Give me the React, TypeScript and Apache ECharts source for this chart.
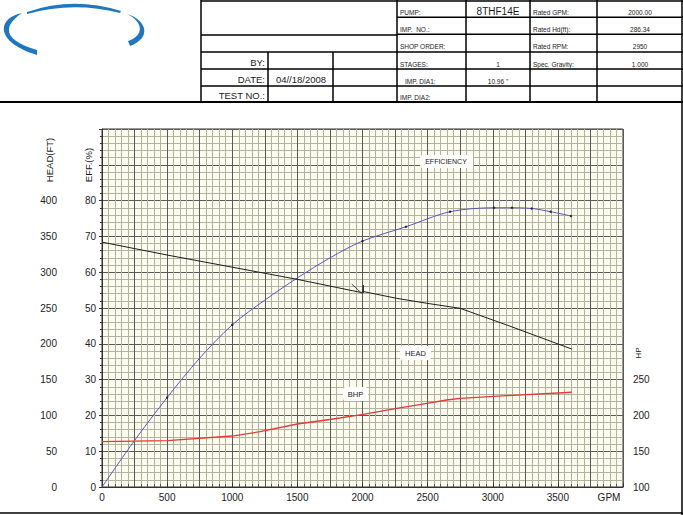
import React, { useEffect, useRef } from "react";
import * as echarts from "echarts";

const FONT = '"Liberation Sans", Arial, Helvetica, sans-serif';

// ---------- data ----------
const effGpm = [0, 250, 500, 750, 1000, 1250, 1500, 1750, 2000, 2334, 2672, 3010, 3148, 3299, 3445, 3601];
const effPct = [0, 13, 25, 36, 45.3, 52.2, 58.4, 64, 68.7, 72.7, 76.9, 78.0, 78.0, 77.8, 76.9, 75.7];
const effDot = [false, false, true, false, true, false, false, false, true, true, true, true, true, true, true, true];

const headGpm = [0, 500, 1000, 1500, 1994, 2006, 2263, 2493, 2749, 3107, 3606];
const headFt = [342, 324, 307, 290, 271.5, 273, 263.5, 256.6, 249.6, 226.3, 192.7];

const ratedTickGpm = [1917, 1994];
const ratedTickFt = [283.5, 270.5];
const ratedBarGpm = [2006, 2006];
const ratedBarFt = [282, 271];

const bhpGpm = [0, 500, 1000, 1213, 1500, 1762, 2006, 2263, 2493, 2646, 2749, 3107, 3606];
const bhpHp = [163.3, 164.7, 171.2, 177.2, 188, 194.6, 201.5, 209.9, 216.9, 221.5, 223.9, 227.5, 232.3];

// axis label limits
const gpmLabelMax = 3500;
const effLabelMax = 80;
const headLabelMax = 400;
const hpLabelMax = 250;

// header texts
const pumpLabels = ["PUMP:", "IMP.  NO.:", "SHOP ORDER:", "STAGES:", "IMP. DIA1:", "IMP. DIA2:"];
const pumpValues = ["8THF14E", "", "", "1", '10.96 "', ""];
const ratedLabels = ["Rated GPM:", "Rated Hd(ft):", "Rated RPM:", "Spec. Gravity:", "", ""];
const ratedValues = ["2000.00", "286.34", "2950", "1.000", "", ""];
const infoLabels = ["BY:", "DATE:", "TEST NO.:"];
const infoValues = ["", "04//18/2008", ""];

const zip = (a: number[], b: number[]) => a.map((v, i) => [v, b[i]]);

echarts.graphic.registerShape(
  "logoLeft",
  echarts.graphic.extendPath("M22 13 C-3 18 -6 42 37 55 L37 50 C2 40 3 26 22 13 Z", {})
);
echarts.graphic.registerShape(
  "logoRight",
  echarts.graphic.extendPath("M127 14 C147 20 152 38 130 46 L128 41 C144 36 144 22 127 14 Z", {})
);
echarts.graphic.registerShape(
  "logoTop",
  echarts.graphic.extendPath("M27 12 Q73 -4 121 11 L120 13 Q73 1 27 14 Z", {})
);

const D = "#5a5a5a";
const M = "#b2b2a2";
const gridCycle = [D, M, M, M, M];

function txt(text: string, x: number, y: number, size: number, align: string, extra: any = {}) {
  return {
    type: "text",
    x,
    y,
    silent: true,
    z: 10,
    style: {
      text,
      fill: "#1a1a1a",
      fontSize: size,
      fontFamily: FONT,
      align,
      textAlign: align,
      verticalAlign: "middle",
      textVerticalAlign: "middle",
      ...extra,
    },
  };
}
function ln(x1: number, y1: number, x2: number, y2: number, w = 1.5) {
  return { type: "line", silent: true, shape: { x1, y1, x2, y2 }, style: { stroke: "#000", lineWidth: w } };
}
function box(x: number, y: number, width: number, height: number) {
  return {
    type: "rect",
    silent: true,
    z: 9,
    shape: { x, y, width, height, r: 3 },
    style: { fill: "#fff" },
  };
}

export default function App() {
  const ref = useRef<HTMLDivElement>(null);
  useEffect(() => {
    const el = ref.current!;
    const chart = echarts.init(el, null, { renderer: "svg" });

    const rowsR = [0, 17.3, 34.3, 51.7, 69, 86, 102];
    const graphic: any[] = [];
    // table lines
    graphic.push(ln(201, 1, 683, 1));
    graphic.push(ln(0, 102, 683, 102, 2));
    graphic.push(ln(201, 35, 397, 35));
    [52, 69, 86].forEach((y) => graphic.push(ln(201, y, 683, y)));
    [17.3, 34.3].forEach((y) => graphic.push(ln(397, y, 683, y)));
    [201, 397, 466, 530, 597].forEach((x) => graphic.push(ln(x, 0, x, 102)));
    [268, 333].forEach((x) => graphic.push(ln(x, 52, x, 102)));
    graphic.push(ln(682, 0, 682, 515));
    graphic.push(ln(0, 513, 683, 513));
    // header texts
    const rowsL = [52, 69, 86, 102];
    infoLabels.forEach((t, i) => {
      const cy = (rowsL[i] + rowsL[i + 1]) / 2 + 1.8;
      graphic.push(txt(t, 265, cy, 9.5, "right"));
      if (infoValues[i]) graphic.push(txt(infoValues[i], 301, cy, 9.5, "center"));
    });
    pumpLabels.forEach((t, i) => {
      const cy = (rowsR[i] + rowsR[i + 1]) / 2 + 3.8;
      graphic.push(txt(t, i === 4 ? 405 : 400, cy, 6.5, "left"));
      if (pumpValues[i]) graphic.push(txt(pumpValues[i], 498, i === 0 ? cy - 1 : cy, i === 0 ? 10 : 6.5, "center"));
      if (ratedLabels[i]) graphic.push(txt(ratedLabels[i], 533, cy, 6.5, "left"));
      if (ratedValues[i]) graphic.push(txt(ratedValues[i], 640, cy, 6.5, "center"));
    });
    // logo
    ["logoLeft", "logoRight", "logoTop"].forEach((t) =>
      graphic.push({ type: t, x: 0, y: 0, silent: true, style: { fill: "#1f77c0" } })
    );
    // axis names
    const rot = (o: any) => ({ ...o, rotation: Math.PI / 2 });
    graphic.push(rot(txt("HEAD(FT)", 49, 160, 9.5, "center")));
    graphic.push(rot(txt("EFF.(%)", 88, 165, 9.5, "center")));
    graphic.push(rot(txt("HP", 638, 353, 8, "center")));
    graphic.push(txt("GPM", 609, 497, 10, "center"));
    // curve labels
    graphic.push(box(420, 155, 53, 13));
    graphic.push(txt("EFFICIENCY", 446, 161.5, 7, "center"));
    graphic.push(box(400, 346, 31, 14));
    graphic.push(txt("HEAD", 415.5, 353, 7.5, "center"));
    graphic.push(box(343, 387, 25, 14));
    graphic.push(txt("BHP", 355.5, 394, 7.5, "center"));

    const labelStyle = { color: "#222", fontSize: 10, fontFamily: FONT };

    chart.setOption({
      animation: false,
      backgroundColor: "#fff",
      grid: {
        left: 102,
        top: 129,
        width: 521,
        height: 358,
        show: true,
        backgroundColor: "#fcfcee",
        borderColor: "#333",
        borderWidth: 1,
      },
      xAxis: [
        {
          type: "value",
          min: 0,
          max: 4000,
          interval: 500,
          position: "bottom",
          axisLine: { show: true, lineStyle: { color: "#333", width: 1 } },
          axisTick: { show: true, inside: true, length: 4, lineStyle: { color: "#333" } },
          minorTick: { show: true, splitNumber: 10, length: 3, lineStyle: { color: "#555" } },
          splitLine: { show: false },
          axisLabel: {
            ...labelStyle,
            margin: 5,
            formatter: (v: number) => (v <= gpmLabelMax ? String(v) : ""),
          },
        },
        {
          type: "value",
          min: 0,
          max: 4000,
          interval: 50,
          position: "bottom",
          axisLine: { show: false },
          axisTick: { show: false },
          axisLabel: { show: false },
          splitLine: { show: true, showMinLine: true, showMaxLine: true, lineStyle: { color: gridCycle, width: 1 } },
        },
      ],
      yAxis: [
        {
          type: "value",
          min: 0,
          max: 100,
          interval: 10,
          position: "left",
          axisLine: { show: true, lineStyle: { color: "#333", width: 1 } },
          axisTick: { show: true, length: 3, lineStyle: { color: "#333" } },
          minorTick: { show: true, splitNumber: 5, length: 2, lineStyle: { color: "#333" } },
          splitLine: { show: false },
          axisLabel: { ...labelStyle, margin: 6, formatter: (v: number) => (v <= effLabelMax ? String(v) : "") },
        },
        {
          type: "value",
          min: 0,
          max: 500,
          interval: 50,
          position: "left",
          offset: 39,
          axisLine: { show: false },
          axisTick: { show: false },
          splitLine: { show: false },
          axisLabel: { ...labelStyle, margin: 6, formatter: (v: number) => (v <= headLabelMax ? String(v) : "") },
        },
        {
          type: "value",
          min: 100,
          max: 600,
          interval: 50,
          position: "right",
          axisLine: { show: false },
          axisTick: { show: false },
          splitLine: { show: false },
          axisLabel: { ...labelStyle, margin: 10, formatter: (v: number) => (v <= hpLabelMax ? String(v) : "") },
        },
        {
          type: "value",
          min: 0,
          max: 100,
          interval: 2,
          position: "left",
          axisLine: { show: false },
          axisTick: { show: false },
          axisLabel: { show: false },
          splitLine: { show: true, showMinLine: true, showMaxLine: true, lineStyle: { color: gridCycle, width: 1 } },
        },
      ],
      series: [
        {
          name: "EFFICIENCY",
          type: "line",
          xAxisIndex: 0,
          yAxisIndex: 0,
          smooth: 0.3,
          showSymbol: false,
          lineStyle: { color: "#5757bd", width: 1 },
          data: zip(effGpm, effPct),
          z: 3,
        },
        {
          name: "EFF points",
          type: "scatter",
          xAxisIndex: 0,
          yAxisIndex: 0,
          symbolSize: 2.5,
          itemStyle: { color: "#111" },
          data: zip(effGpm, effPct).filter((_, i) => effDot[i]),
          z: 4,
        },
        {
          name: "HEAD",
          type: "line",
          xAxisIndex: 0,
          yAxisIndex: 1,
          showSymbol: false,
          lineStyle: { color: "#1e1e1e", width: 1 },
          data: zip(headGpm, headFt),
          z: 3,
        },
        {
          name: "rated tick",
          type: "line",
          xAxisIndex: 0,
          yAxisIndex: 1,
          showSymbol: false,
          lineStyle: { color: "#1e1e1e", width: 0.8 },
          data: zip(ratedTickGpm, ratedTickFt),
          z: 3,
        },
        {
          name: "rated bar",
          type: "line",
          xAxisIndex: 0,
          yAxisIndex: 1,
          showSymbol: false,
          lineStyle: { color: "#1e1e1e", width: 1.2 },
          data: zip(ratedBarGpm, ratedBarFt),
          z: 3,
        },
        {
          name: "BHP",
          type: "line",
          xAxisIndex: 0,
          yAxisIndex: 2,
          showSymbol: false,
          lineStyle: { color: "#e53935", width: 1.3 },
          data: zip(bhpGpm, bhpHp),
          z: 3,
        },
      ],
      graphic,
    });
    return () => chart.dispose();
  }, []);
  return (
    <div
      ref={ref}
      style={{ position: "absolute", left: 0, top: 0, width: 683, height: 515, background: "#fff" }}
    />
  );
}
